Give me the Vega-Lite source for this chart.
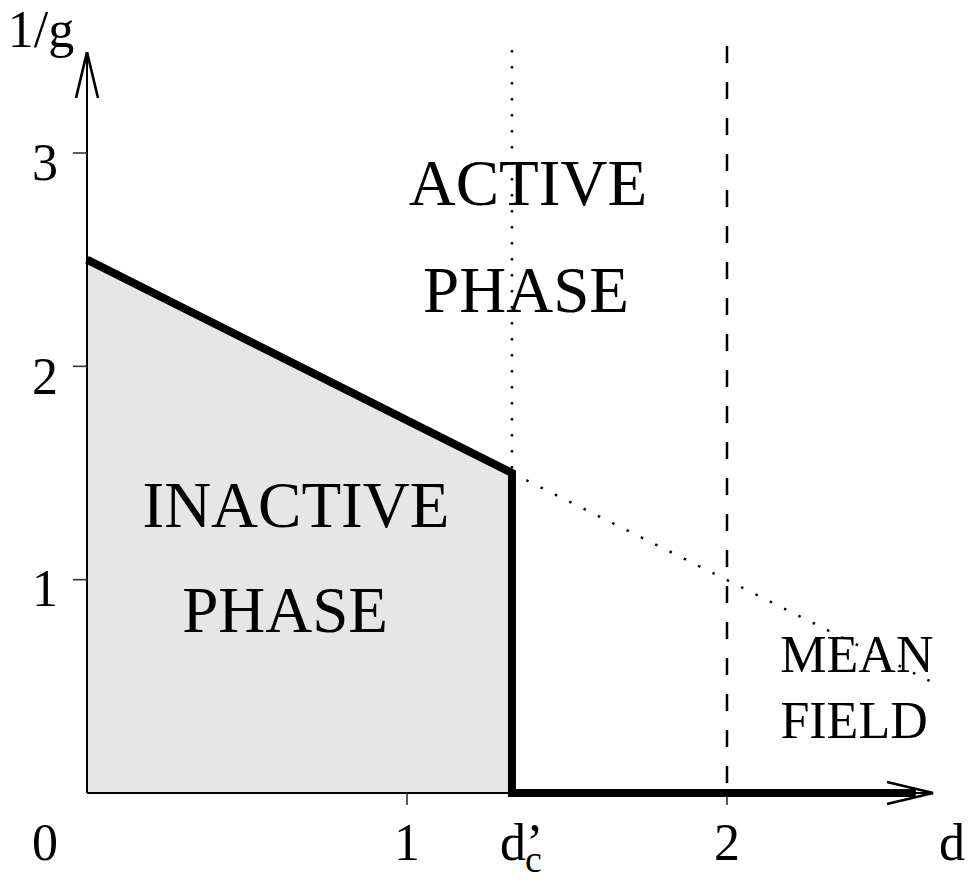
{
  "$schema": "https://vega.github.io/schema/vega-lite/v6.json",
  "width": 972,
  "height": 888,
  "autosize": {"type": "fit", "contains": "padding"},
  "padding": 0,
  "background": "white",
  "config": {"view": {"stroke": null}},
  "datasets": {
    "region": [
      {"d": 0, "invg": 2.5},
      {"d": 1.328, "invg": 1.5}
    ],
    "boundary": [
      {"d": 0, "invg": 2.5, "o": 1},
      {"d": 1.328, "invg": 1.5, "o": 2},
      {"d": 1.328, "invg": 0, "o": 3},
      {"d": 2.59, "invg": 0, "o": 4}
    ],
    "segments": [
      {"kind": "axis", "d": 0, "invg": 0, "d2": 2.644, "invg2": 0},
      {"kind": "axis", "d": 0, "invg": 0, "d2": 0, "invg2": 3.473},
      {"kind": "barb", "d": 0, "invg": 3.473, "d2": -0.0344, "invg2": 3.258},
      {"kind": "barb", "d": 0, "invg": 3.473, "d2": 0.0344, "invg2": 3.258},
      {"kind": "barb", "d": 2.644, "invg": 0, "d2": 2.5, "invg2": 0.0516},
      {"kind": "barb", "d": 2.644, "invg": 0, "d2": 2.5, "invg2": -0.0516},
      {"kind": "tick", "d": -0.044, "invg": 1, "d2": 0, "invg2": 1},
      {"kind": "tick", "d": -0.044, "invg": 2, "d2": 0, "invg2": 2},
      {"kind": "tick", "d": -0.044, "invg": 3, "d2": 0, "invg2": 3},
      {"kind": "tick", "d": 1, "invg": 0, "d2": 1, "invg2": -0.056},
      {"kind": "tick", "d": 2, "invg": 0, "d2": 2, "invg2": -0.056},
      {"kind": "dotted", "d": 1.328, "invg": 3.483, "d2": 1.328, "invg2": 1.5},
      {"kind": "dotted", "d": 1.328, "invg": 1.5, "d2": 2.65, "invg2": 0.5125},
      {"kind": "dashed", "d": 2, "invg": 3.502, "d2": 2, "invg2": 0}
    ],
    "bigtext": [
      {"label": "ACTIVE", "d": 1.378, "invg": 2.756},
      {"label": "PHASE", "d": 1.372, "invg": 2.255},
      {"label": "INACTIVE", "d": 0.653, "invg": 1.247},
      {"label": "PHASE", "d": 0.619, "invg": 0.755}
    ],
    "midtext": [
      {"label": "MEAN", "d": 2.406, "invg": 0.567},
      {"label": "FIELD", "d": 2.397, "invg": 0.258},
      {"label": "0", "d": -0.131, "invg": -0.314},
      {"label": "1", "d": 1, "invg": -0.314},
      {"label": "2", "d": 2, "invg": -0.314},
      {"label": "d", "d": 2.703, "invg": -0.314},
      {"label": "1", "d": -0.131, "invg": 0.877},
      {"label": "2", "d": -0.131, "invg": 1.87},
      {"label": "3", "d": -0.131, "invg": 2.873},
      {"label": "1/g", "d": -0.144, "invg": 3.497}
    ],
    "dprime": [
      {"label": "d’", "d": 1.291, "invg": -0.314}
    ],
    "sub": [
      {"label": "c", "d": 1.369, "invg": -0.37}
    ]
  },
  "layer": [
    {
      "data": {"name": "region"},
      "mark": {"type": "area", "color": "#e6e6e6"},
      "encoding": {
        "x": {"field": "d", "type": "quantitative", "scale": {"domain": [-0.271875, 2.765625], "nice": false, "zero": false}, "axis": null},
        "y": {"field": "invg", "type": "quantitative", "scale": {"domain": [-0.4453, 3.7172], "nice": false, "zero": false}, "axis": null},
        "y2": {"datum": 0}
      }
    },
    {
      "data": {"name": "segments"},
      "transform": [{"filter": "datum.kind === 'axis'"}],
      "mark": {"type": "rule", "color": "black", "strokeWidth": 2},
      "encoding": {
        "x": {"field": "d", "type": "quantitative", "scale": {"domain": [-0.271875, 2.765625], "nice": false, "zero": false}, "axis": null},
        "y": {"field": "invg", "type": "quantitative", "scale": {"domain": [-0.4453, 3.7172], "nice": false, "zero": false}, "axis": null},
        "x2": {"field": "d2"},
        "y2": {"field": "invg2"}
      }
    },
    {
      "data": {"name": "segments"},
      "transform": [{"filter": "datum.kind === 'tick'"}],
      "mark": {"type": "rule", "color": "#333333", "strokeWidth": 1.6},
      "encoding": {
        "x": {"field": "d", "type": "quantitative", "scale": {"domain": [-0.271875, 2.765625], "nice": false, "zero": false}, "axis": null},
        "y": {"field": "invg", "type": "quantitative", "scale": {"domain": [-0.4453, 3.7172], "nice": false, "zero": false}, "axis": null},
        "x2": {"field": "d2"},
        "y2": {"field": "invg2"}
      }
    },
    {
      "data": {"name": "segments"},
      "transform": [{"filter": "datum.kind === 'dashed'"}],
      "mark": {"type": "rule", "color": "black", "strokeWidth": 2.5, "strokeDash": [17, 19], "strokeCap": "butt"},
      "encoding": {
        "x": {"field": "d", "type": "quantitative", "scale": {"domain": [-0.271875, 2.765625], "nice": false, "zero": false}, "axis": null},
        "y": {"field": "invg", "type": "quantitative", "scale": {"domain": [-0.4453, 3.7172], "nice": false, "zero": false}, "axis": null},
        "x2": {"field": "d2"},
        "y2": {"field": "invg2"}
      }
    },
    {
      "data": {"name": "segments"},
      "transform": [{"filter": "datum.kind === 'dotted'"}],
      "mark": {"type": "rule", "color": "black", "strokeWidth": 2.5, "strokeDash": [2.5, 13.5], "strokeCap": "butt"},
      "encoding": {
        "x": {"field": "d", "type": "quantitative", "scale": {"domain": [-0.271875, 2.765625], "nice": false, "zero": false}, "axis": null},
        "y": {"field": "invg", "type": "quantitative", "scale": {"domain": [-0.4453, 3.7172], "nice": false, "zero": false}, "axis": null},
        "x2": {"field": "d2"},
        "y2": {"field": "invg2"}
      }
    },
    {
      "data": {"name": "boundary"},
      "mark": {"type": "line", "color": "black", "strokeWidth": 8, "strokeJoin": "miter", "strokeCap": "butt"},
      "encoding": {
        "x": {"field": "d", "type": "quantitative", "scale": {"domain": [-0.271875, 2.765625], "nice": false, "zero": false}, "axis": null},
        "y": {"field": "invg", "type": "quantitative", "scale": {"domain": [-0.4453, 3.7172], "nice": false, "zero": false}, "axis": null},
        "order": {"field": "o", "type": "quantitative"}
      }
    },
    {
      "data": {"name": "segments"},
      "transform": [{"filter": "datum.kind === 'barb'"}],
      "mark": {"type": "rule", "color": "black", "strokeWidth": 2.6, "strokeCap": "butt"},
      "encoding": {
        "x": {"field": "d", "type": "quantitative", "scale": {"domain": [-0.271875, 2.765625], "nice": false, "zero": false}, "axis": null},
        "y": {"field": "invg", "type": "quantitative", "scale": {"domain": [-0.4453, 3.7172], "nice": false, "zero": false}, "axis": null},
        "x2": {"field": "d2"},
        "y2": {"field": "invg2"}
      }
    },
    {
      "data": {"name": "bigtext"},
      "mark": {"type": "text", "font": "Liberation Serif", "fontSize": 65, "align": "center", "baseline": "alphabetic", "color": "black"},
      "encoding": {
        "x": {"field": "d", "type": "quantitative", "scale": {"domain": [-0.271875, 2.765625], "nice": false, "zero": false}, "axis": null},
        "y": {"field": "invg", "type": "quantitative", "scale": {"domain": [-0.4453, 3.7172], "nice": false, "zero": false}, "axis": null},
        "text": {"field": "label"}
      }
    },
    {
      "data": {"name": "midtext"},
      "mark": {"type": "text", "font": "Liberation Serif", "fontSize": 52, "align": "center", "baseline": "alphabetic", "color": "black"},
      "encoding": {
        "x": {"field": "d", "type": "quantitative", "scale": {"domain": [-0.271875, 2.765625], "nice": false, "zero": false}, "axis": null},
        "y": {"field": "invg", "type": "quantitative", "scale": {"domain": [-0.4453, 3.7172], "nice": false, "zero": false}, "axis": null},
        "text": {"field": "label"}
      }
    },
    {
      "data": {"name": "dprime"},
      "mark": {"type": "text", "font": "Liberation Serif", "fontSize": 52, "align": "left", "baseline": "alphabetic", "color": "black"},
      "encoding": {
        "x": {"field": "d", "type": "quantitative", "scale": {"domain": [-0.271875, 2.765625], "nice": false, "zero": false}, "axis": null},
        "y": {"field": "invg", "type": "quantitative", "scale": {"domain": [-0.4453, 3.7172], "nice": false, "zero": false}, "axis": null},
        "text": {"field": "label"}
      }
    },
    {
      "data": {"name": "sub"},
      "mark": {"type": "text", "font": "Liberation Serif", "fontSize": 38, "align": "left", "baseline": "alphabetic", "color": "black"},
      "encoding": {
        "x": {"field": "d", "type": "quantitative", "scale": {"domain": [-0.271875, 2.765625], "nice": false, "zero": false}, "axis": null},
        "y": {"field": "invg", "type": "quantitative", "scale": {"domain": [-0.4453, 3.7172], "nice": false, "zero": false}, "axis": null},
        "text": {"field": "label"}
      }
    }
  ]
}
